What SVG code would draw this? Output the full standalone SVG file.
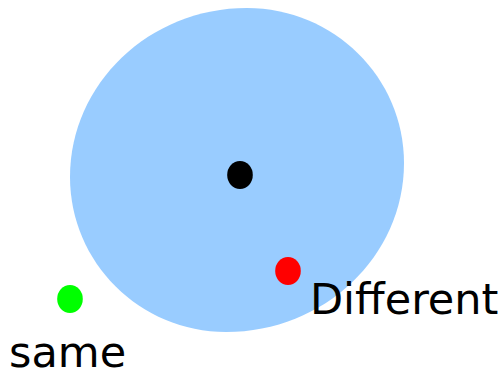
<svg xmlns="http://www.w3.org/2000/svg" width="502" height="372" viewBox="0 0 502 372">
<style>
.lbl{font-family:"DejaVu Sans",sans-serif;font-size:43px;fill:#000}
</style>
<rect width="502" height="372" fill="#fff"/>
<g id="region">
<path d="M247,8 C333.7,8 404,77.4 404,163 C404,256.3 324.3,332 226,332 C139.9,332 70,262.6 70,177 C70,83.7 149.3,8 247,8 Z" fill="#99ccff"/>
</g>
<g id="center"><ellipse cx="240" cy="175" rx="12.8" ry="14" fill="#000"/></g>
<g id="different"><ellipse cx="288" cy="271" rx="12.8" ry="14" fill="#f00"/>
<text class="lbl" x="310" y="314">Different</text></g>
<g id="same"><ellipse cx="70" cy="299" rx="12.8" ry="14" fill="#0f0"/>
<text class="lbl" x="9" y="367">same</text></g>
<g id="connectors"/>
</svg>
